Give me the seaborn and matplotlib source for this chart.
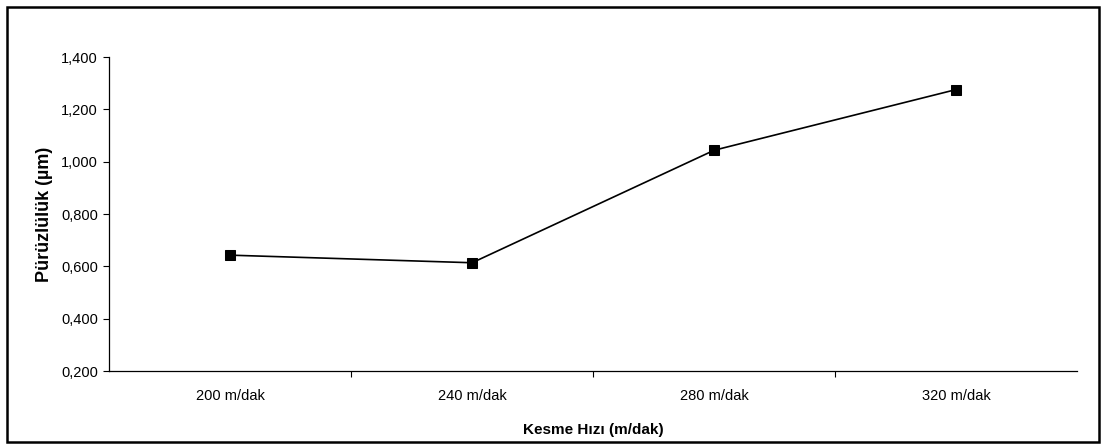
import matplotlib
matplotlib.use("Agg")
import matplotlib.pyplot as plt
import matplotlib.ticker as mticker
from matplotlib.patches import Rectangle
import seaborn as sns
import pandas as pd

# Kesme hızına göre pürüzlülük
hizlar = ['200 m/dak', '240 m/dak', '280 m/dak', '320 m/dak']
puruzluluk = [0.643, 0.614, 1.044, 1.276]
y_ticks = [0.2, 0.4, 0.6, 0.8, 1.0, 1.2, 1.4]

df = pd.DataFrame({'hiz': hizlar, 'ra': puruzluluk})

sns.set_style('white', {'text.color': 'black', 'axes.labelcolor': 'black',
                        'xtick.color': 'black', 'ytick.color': 'black'})
plt.rcParams['font.family'] = ['Liberation Sans', 'DejaVu Sans']

fig = plt.figure(figsize=(11.06, 4.46), dpi=100)
ax = fig.add_axes([0.0986, 0.168, 0.8754, 0.704])

sns.lineplot(data=df, x='hiz', y='ra', ax=ax, color='black', linewidth=1.2,
             marker='s', markersize=6.5, markeredgecolor='black', sort=False)

ax.set_xlim(-0.5, 3.5)
ax.set_ylim(0.2, 1.4)
ax.set_yticks(y_ticks)
ax.yaxis.set_major_formatter(mticker.FuncFormatter(lambda v, p: f'{v:.3f}'.replace('.', ',')))
ax.set_xticks(range(len(hizlar)))
ax.set_xticklabels(hizlar)
ax.set_xticks([0.5, 1.5, 2.5], minor=True)
ax.tick_params(axis='x', which='major', length=0, pad=13, labelsize=10.5, labelcolor='black')
ax.tick_params(axis='x', which='minor', length=4, width=0.8, direction='out', bottom=True, color='black')
ax.tick_params(axis='y', length=4, width=0.8, direction='out', left=True, labelsize=10.5, pad=4,
               color='black', labelcolor='black')

for s in ['top', 'right']:
    ax.spines[s].set_visible(False)
for s in ['left', 'bottom']:
    ax.spines[s].set_color('black')
    ax.spines[s].set_linewidth(0.9)

ax.set_xlabel('Kesme Hızı (m/dak)', fontsize=11, fontweight='bold', labelpad=14, color='black')
ax.set_ylabel('Pürüzlülük (µm)', fontsize=13, fontweight='bold', labelpad=6, color='black')

# çerçeve
fig.patches.append(Rectangle((0.006, 0.008), 0.988, 0.977, transform=fig.transFigure,
                             fill=False, edgecolor='black', linewidth=1.8))

fig.savefig('out.png', dpi=100)
